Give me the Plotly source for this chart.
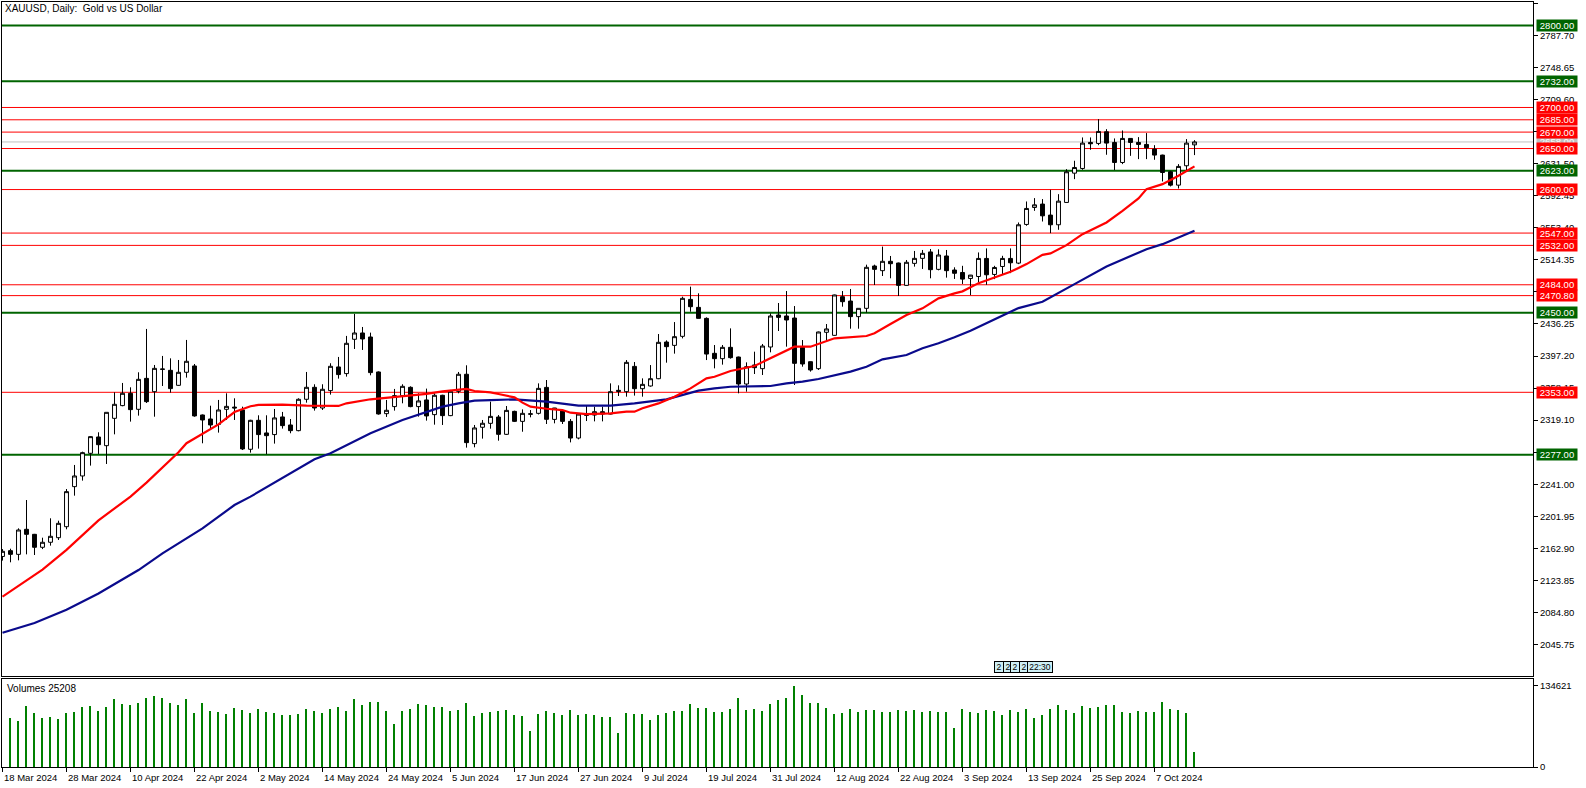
import plotly.graph_objects as go

# ---------------- data ----------------
date_labels = ["18 Mar 2024", "28 Mar 2024", "10 Apr 2024", "22 Apr 2024", "2 May 2024",
               "14 May 2024", "24 May 2024", "5 Jun 2024", "17 Jun 2024", "27 Jun 2024",
               "9 Jul 2024", "19 Jul 2024", "31 Jul 2024", "12 Aug 2024", "22 Aug 2024",
               "3 Sep 2024", "13 Sep 2024", "25 Sep 2024", "7 Oct 2024"]
date_label_bar = [0, 8, 16, 24, 32, 40, 48, 56, 64, 72, 80, 88, 96, 104, 112, 120, 128, 136, 144]

opens = [2153.0, 2160.1, 2155.6, 2186.1, 2180.0, 2164.2, 2170.3, 2175.9, 2189.3, 2238.1,
         2251.1, 2278.7, 2298.6, 2288.0, 2321.3, 2336.8, 2351.8, 2332.3, 2370.0, 2353.8,
         2381.5, 2379.8, 2361.5, 2377.4, 2385.1, 2325.4, 2320.5, 2313.9, 2332.3, 2335.0,
         2331.5, 2283.6, 2318.9, 2303.5, 2301.5, 2323.0, 2313.2, 2306.3, 2344.5, 2359.1,
         2333.9, 2355.1, 2383.9, 2375.8, 2417.6, 2425.3, 2420.4, 2377.8, 2327.0, 2335.6,
         2349.0, 2359.1, 2335.6, 2343.7, 2325.8, 2349.4, 2324.6, 2354.2, 2375.0, 2290.5,
         2310.4, 2315.2, 2322.9, 2301.8, 2329.8, 2317.6, 2326.2, 2327.4, 2359.0, 2320.0,
         2330.2, 2317.6, 2297.3, 2326.5, 2325.3, 2329.4, 2326.5, 2355.4, 2353.8, 2384.6,
         2357.4, 2360.7, 2369.6, 2414.3, 2410.2, 2421.2, 2466.2, 2456.5, 2443.1, 2400.5,
         2394.0, 2407.8, 2396.0, 2363.1, 2386.3, 2381.8, 2408.2, 2447.2, 2446.0, 2443.5,
         2407.8, 2390.3, 2381.8, 2426.1, 2422.4, 2469.5, 2464.2, 2445.2, 2455.3, 2506.9,
         2501.2, 2512.6, 2510.5, 2483.3, 2510.1, 2516.2, 2524.0, 2502.8, 2519.1, 2502.0,
         2499.0, 2491.7, 2494.1, 2516.1, 2496.6, 2506.3, 2516.1, 2510.4, 2557.5, 2578.2,
         2582.3, 2568.9, 2557.1, 2584.3, 2620.0, 2625.7, 2657.4, 2656.2, 2670.4, 2657.4,
         2633.0, 2662.3, 2657.4, 2655.0, 2649.3, 2642.0, 2621.7, 2605.4, 2629.0, 2654.5]
highs = [2162.0, 2162.5, 2187.3, 2221.8, 2180.5, 2175.9, 2199.5, 2196.6, 2235.2, 2264.5,
         2280.7, 2299.5, 2304.3, 2328.6, 2353.0, 2364.4, 2359.1, 2377.4, 2430.2, 2386.3,
         2397.3, 2394.4, 2392.4, 2416.8, 2387.5, 2326.0, 2336.7, 2343.7, 2351.8, 2345.7,
         2335.5, 2319.5, 2325.0, 2325.0, 2332.7, 2329.1, 2320.5, 2345.7, 2377.8, 2362.8,
         2362.8, 2388.4, 2396.1, 2421.7, 2448.5, 2432.6, 2425.7, 2378.5, 2343.7, 2357.1,
         2362.8, 2360.3, 2351.8, 2357.5, 2351.8, 2350.0, 2355.9, 2377.8, 2385.9, 2313.2,
         2319.3, 2341.6, 2325.3, 2336.3, 2330.6, 2332.2, 2331.4, 2363.9, 2368.0, 2334.0,
         2332.2, 2320.5, 2327.0, 2337.5, 2335.5, 2335.5, 2363.9, 2361.5, 2392.3, 2389.9,
         2370.0, 2386.2, 2424.0, 2416.3, 2438.6, 2469.5, 2481.7, 2473.6, 2444.3, 2410.6,
         2410.6, 2430.9, 2396.5, 2389.5, 2402.5, 2411.9, 2449.2, 2461.8, 2476.4, 2458.1,
         2416.7, 2390.5, 2427.0, 2436.2, 2472.0, 2476.4, 2478.9, 2455.5, 2508.5, 2508.5,
         2530.5, 2519.1, 2511.0, 2514.2, 2525.2, 2526.4, 2527.6, 2527.2, 2526.4, 2505.3,
         2507.1, 2496.0, 2523.4, 2528.3, 2507.1, 2519.3, 2528.3, 2559.9, 2585.5, 2589.6,
         2588.4, 2599.7, 2594.4, 2624.9, 2635.1, 2663.5, 2663.5, 2685.8, 2673.6, 2662.3,
         2672.0, 2662.5, 2663.9, 2668.8, 2654.1, 2642.5, 2622.9, 2631.0, 2661.5, 2660.2]
lows = [2148.0, 2145.9, 2148.3, 2155.6, 2154.8, 2162.0, 2166.2, 2173.1, 2186.1, 2227.1,
        2245.4, 2263.7, 2277.9, 2265.7, 2301.8, 2336.0, 2317.3, 2324.6, 2340.0, 2323.3,
        2360.7, 2352.6, 2361.0, 2370.9, 2323.3, 2290.9, 2309.1, 2303.9, 2319.3, 2319.3,
        2282.7, 2279.5, 2284.4, 2277.5, 2290.5, 2308.8, 2303.1, 2305.5, 2340.4, 2330.7,
        2331.5, 2350.2, 2369.7, 2372.1, 2405.8, 2404.6, 2373.7, 2325.8, 2323.0, 2330.7,
        2339.6, 2334.8, 2323.4, 2318.5, 2313.6, 2313.2, 2324.0, 2351.8, 2285.6, 2286.0,
        2296.6, 2308.7, 2294.1, 2301.0, 2316.8, 2305.0, 2322.5, 2326.0, 2314.4, 2315.2,
        2314.4, 2292.0, 2295.7, 2318.0, 2317.6, 2317.6, 2326.0, 2348.5, 2347.7, 2349.0,
        2347.7, 2359.9, 2369.0, 2389.1, 2400.1, 2418.7, 2451.2, 2443.0, 2392.3, 2382.2,
        2386.7, 2394.0, 2351.8, 2353.8, 2375.3, 2374.1, 2401.7, 2427.7, 2408.6, 2361.9,
        2384.2, 2378.2, 2380.2, 2414.7, 2422.0, 2457.3, 2430.5, 2430.5, 2450.0, 2483.7,
        2494.7, 2491.9, 2470.3, 2483.0, 2506.1, 2503.3, 2491.9, 2501.6, 2492.7, 2491.1,
        2485.0, 2471.4, 2486.8, 2484.0, 2490.9, 2497.0, 2498.2, 2509.2, 2555.9, 2574.1,
        2561.1, 2546.9, 2551.0, 2584.0, 2612.7, 2624.1, 2648.5, 2654.1, 2642.4, 2623.7,
        2631.0, 2641.1, 2637.1, 2637.1, 2636.3, 2609.9, 2603.8, 2601.3, 2623.7, 2642.0]
closes = [2159.3, 2155.6, 2185.3, 2180.0, 2164.2, 2170.3, 2177.6, 2193.4, 2232.0, 2251.1,
          2279.5, 2299.0, 2289.2, 2328.6, 2338.4, 2351.8, 2331.9, 2368.8, 2341.6, 2382.2,
          2381.0, 2357.5, 2377.4, 2390.8, 2324.2, 2319.3, 2313.2, 2331.5, 2335.9, 2334.0,
          2284.0, 2318.9, 2301.5, 2300.2, 2321.8, 2312.4, 2306.3, 2344.5, 2359.1, 2333.9,
          2356.7, 2384.7, 2374.6, 2412.7, 2425.3, 2418.0, 2377.0, 2326.6, 2331.1, 2349.0,
          2360.3, 2335.6, 2342.5, 2324.2, 2349.4, 2324.6, 2354.2, 2375.0, 2291.7, 2309.6,
          2315.3, 2323.7, 2301.8, 2331.0, 2317.6, 2327.4, 2326.8, 2357.8, 2320.1, 2333.9,
          2317.6, 2297.3, 2326.5, 2325.0, 2329.4, 2326.5, 2353.8, 2354.2, 2389.5, 2357.4,
          2362.7, 2369.6, 2413.9, 2408.6, 2420.8, 2467.5, 2457.3, 2443.1, 2399.6, 2394.0,
          2407.8, 2395.2, 2363.1, 2384.2, 2383.0, 2409.4, 2446.0, 2444.3, 2441.1, 2388.3,
          2387.5, 2380.2, 2426.5, 2430.2, 2471.6, 2463.4, 2445.2, 2455.3, 2505.3, 2502.8,
          2512.6, 2509.7, 2483.3, 2511.4, 2516.2, 2522.3, 2502.4, 2520.3, 2501.2, 2498.0,
          2490.9, 2495.8, 2516.1, 2496.2, 2505.1, 2516.1, 2510.8, 2557.1, 2577.0, 2581.4,
          2568.0, 2557.1, 2585.9, 2621.7, 2626.9, 2656.6, 2655.8, 2670.8, 2656.6, 2633.0,
          2662.3, 2657.4, 2655.0, 2650.9, 2642.0, 2620.8, 2605.4, 2628.2, 2656.6, 2658.0]
# first bar's volume is hidden behind the panel edge in the picture
volumes = [None, 81600, 76700, 101500, 89900, 81600, 83300, 80000, 89900, 91600,
           99800, 101500, 93200, 99800, 113100, 104800, 103200, 106500, 114700, 118100,
           114700, 106500, 103200, 113100, 89900, 106500, 93200, 91600, 88300, 98200,
           94900, 89900, 96500, 91600, 89900, 86600, 86600, 88300, 96500, 93200,
           89900, 96500, 99800, 93200, 113100, 103200, 108100, 108100, 93200, 71700,
           93200, 96500, 104800, 103200, 99800, 99800, 93200, 94900, 106500, 84900,
           89900, 91600, 93200, 94900, 86600, 84900, 60100, 88300, 93200, 89900,
           86600, 94900, 86600, 88300, 86600, 83300, 83300, 56800, 89900, 88300,
           88300, 78300, 86600, 89900, 93200, 93200, 104800, 98200, 98200, 91600,
           91600, 96500, 114700, 94900, 96500, 93200, 104800, 111400, 114700, 134621,
           119700, 106500, 106500, 98200, 88300, 89900, 96500, 91600, 94900, 94900,
           91600, 91600, 94900, 93200, 94900, 91600, 93200, 91600, 91600, 65100,
           96500, 91600, 89900, 94900, 93200, 86600, 94900, 91600, 96500, 81600,
           86600, 96500, 103200, 94900, 89900, 101500, 98200, 99800, 103200, 103200,
           91600, 89900, 93200, 91600, 91600, 108100, 96500, 94900, 89900, 25208]

# moving averages (bar index, value)
ma_fast_bar = [0, 3, 5, 8, 12, 16, 18, 22, 23, 27, 29, 31, 32, 35, 38, 42, 43, 46, 49, 53,
               55, 57, 58, 59, 61, 62, 64, 65, 66, 68, 70, 71, 73, 76, 78, 79, 80, 82, 84, 86,
               88, 89, 91, 94, 96, 98, 99, 101, 102, 104, 108, 109, 111, 113, 115, 117, 119, 120,
               122, 124, 126, 128, 130, 131, 133, 135, 138, 140, 142, 143, 145, 147, 149]
ma_fast_val = [2104, 2124, 2137, 2161, 2197, 2226, 2243, 2280, 2291, 2314, 2329, 2336, 2337.6,
               2338, 2336.8, 2336.4, 2339.6, 2344.5, 2346.9, 2351, 2354.2, 2356.7, 2357.1,
               2354.6, 2353, 2350.9, 2346.8, 2340.4, 2335.5, 2333, 2331.4, 2328.2, 2326.5,
               2327.4, 2329.4, 2329.4, 2333.5, 2339.5, 2347.7, 2357.8, 2370, 2372, 2379,
               2385.1, 2394.4, 2403.7, 2408.6, 2408.6, 2411.9, 2418.8, 2421.6, 2424.9, 2436.2,
               2447.2, 2455.3, 2467.5, 2473.5, 2476, 2486, 2492.9, 2499.8, 2509.2, 2520.5,
               2522.2, 2532.3, 2545.7, 2559.9, 2574.1, 2589.2, 2600.5, 2606.6, 2616.8, 2628.2]
ma_slow_bar = [0, 4, 8, 12, 17, 20, 25, 29, 31, 39, 41, 46, 50, 53, 55, 57, 59, 61, 64, 68,
               72, 76, 79, 83, 85, 87, 89, 91, 96, 98, 100, 102, 106, 108, 110, 113, 115, 117,
               119, 121, 127, 130, 134, 138, 143, 145, 147, 149]
ma_slow_val = [2060, 2072, 2088, 2108, 2136.5, 2156.8, 2187.3, 2215.7, 2225.9, 2271.4, 2278.7,
               2303.1, 2319.3, 2329.5, 2335.6, 2339.6, 2342.8, 2343.6, 2344.4, 2341.6, 2336.7,
               2336.7, 2339.5, 2344.4, 2349.7, 2355.0, 2357.8, 2359.8, 2360.7, 2363.9, 2366.0,
               2369.2, 2378.2, 2384.2, 2393.2, 2398.5, 2406.6, 2412.7, 2420.0, 2428.0, 2455.6,
               2463.3, 2484.8, 2506.3, 2527.4, 2533.5, 2541.6, 2549.8]

green_levels = [2800.0, 2732.0, 2623.0, 2450.0, 2277.0]
red_levels = [2700.0, 2685.0, 2670.0, 2650.0, 2600.0, 2547.0, 2532.0, 2484.0, 2470.8, 2353.0]

price_ticks = ["2826.75", "2787.70", "2748.65", "2709.60", "2670.55", "2631.50", "2592.45",
               "2553.40", "2514.35", "2475.30", "2436.25", "2397.20", "2358.15", "2319.10",
               "2280.05", "2241.00", "2201.95", "2162.90", "2123.85", "2084.80", "2045.75"]
volume_max_label = 134621

# ---------------- styling ----------------
FONT = "Liberation Sans, Arial, sans-serif"
DARK_GREEN = "#006400"
RED = "#ff0000"

bars = list(range(len(opens)))
W, H = 1586, 788
ML, MR, MT, MB = 2, 53, 2, 21
plot_w = W - ML - MR
plot_h = H - MT - MB
px_per_bar = 8.0
x_left = -0.5 / px_per_bar
x_right = x_left + plot_w / px_per_bar

main_bottom_px = 676
vol_top_px = 679
bottom_px = H - MB


def ypaper(py):
    return (bottom_px - py) / plot_h


def xpaper(px):
    return (px - ML) / plot_w


fig = go.Figure()

fig.add_trace(go.Bar(
    x=bars, y=volumes, width=0.14, marker=dict(color="#008000", line=dict(width=0)),
    xaxis="x2", yaxis="y2", showlegend=False, hoverinfo="skip"))

fig.add_trace(go.Scatter(
    x=ma_slow_bar, y=ma_slow_val, mode="lines", line=dict(color="#0a0a8c", width=2.2),
    xaxis="x", yaxis="y", showlegend=False, hoverinfo="skip"))
fig.add_trace(go.Scatter(
    x=ma_fast_bar, y=ma_fast_val, mode="lines", line=dict(color=RED, width=2.2),
    xaxis="x", yaxis="y", showlegend=False, hoverinfo="skip"))

fig.add_trace(go.Candlestick(
    x=bars, open=opens, high=highs, low=lows, close=closes,
    increasing=dict(line=dict(color="black", width=1), fillcolor="white"),
    decreasing=dict(line=dict(color="black", width=1), fillcolor="black"),
    whiskerwidth=0, xaxis="x", yaxis="y", showlegend=False))

shapes = []
last_close = closes[-1]
shapes.append(dict(type="line", xref="paper", yref="y", x0=0, x1=1, y0=last_close, y1=last_close,
                   line=dict(color="#c0c0c0", width=1), layer="below"))
for lv in red_levels:
    shapes.append(dict(type="line", xref="paper", yref="y", x0=0, x1=1, y0=lv, y1=lv,
                       line=dict(color=RED, width=1), layer="below"))
for lv in green_levels:
    shapes.append(dict(type="line", xref="paper", yref="y", x0=0, x1=1, y0=lv, y1=lv,
                       line=dict(color=DARK_GREEN, width=2), layer="below"))

annotations = []
annotations.append(dict(text="XAUUSD, Daily:\u00a0\u00a0Gold vs US Dollar", xref="paper", yref="paper",
                        x=xpaper(3), y=ypaper(9), xanchor="left", yanchor="middle", showarrow=False,
                        font=dict(family=FONT, size=10, color="black")))
annotations.append(dict(text="Volumes " + str(volumes[-1]), xref="paper", yref="paper",
                        x=xpaper(5), y=ypaper(688), xanchor="left", yanchor="middle", showarrow=False,
                        font=dict(family=FONT, size=10, color="black")))


def level_box(val, bg, txt_color="white"):
    return dict(text=f"{val:.2f}", xref="paper", yref="y", x=1, y=val, xanchor="left",
                yanchor="middle", xshift=3, showarrow=False, bgcolor=bg, width=40, height=11,
                borderpad=0, font=dict(family=FONT, size=9.5, color=txt_color))


annotations.append(level_box(last_close, "#c0c0c0"))
for lv in red_levels:
    annotations.append(level_box(lv, RED))
for lv in green_levels:
    annotations.append(level_box(lv, DARK_GREEN))

# date labels (left-aligned at the tick, MT5 style)
for b, lab in zip(date_label_bar, date_labels):
    annotations.append(dict(text=lab, xref="x2", yref="paper", x=b, y=ypaper(777),
                            xanchor="left", yanchor="middle", xshift=-1, showarrow=False,
                            font=dict(family=FONT, size=9.5, color="black")))

# small event tags near the bottom of the price panel
tag_texts = ["2", "2", "2", "2", "22:30"]
tag_left = [994, 1002.7, 1010.3, 1018.5, 1026.7]
tag_width = [8, 8, 8, 8, 24]
for t, lx, tw in zip(tag_texts, tag_left, tag_width):
    annotations.append(dict(text=t, xref="paper", yref="paper", x=xpaper(lx), y=ypaper(667),
                            xanchor="left", yanchor="middle", showarrow=False, bgcolor="#cdeef4",
                            bordercolor="black", borderwidth=1, borderpad=0, width=tw, height=10,
                            font=dict(family=FONT, size=8.5, color="black")))

fig.update_layout(
    width=W, height=H,
    margin=dict(l=ML, r=MR, t=MT, b=MB, pad=0, autoexpand=False),
    paper_bgcolor="white", plot_bgcolor="white",
    showlegend=False, bargap=0,
    font=dict(family=FONT, size=9.5, color="black"),
    xaxis=dict(domain=[0, 1], range=[x_left, x_right], anchor="y", showgrid=False,
               zeroline=False, showticklabels=False, ticks="", showline=True, linecolor="black",
               linewidth=1, mirror=True, rangeslider=dict(visible=False), fixedrange=True,
               automargin=False),
    yaxis=dict(domain=[ypaper(main_bottom_px), 1], range=[2007.4, 2828.5], side="right",
               anchor="x", showgrid=False, zeroline=False, tickmode="array",
               tickvals=[float(t) for t in price_ticks], ticktext=price_ticks, automargin=False,
               ticks="outside", ticklen=4, tickcolor="black", showline=True, linecolor="black",
               linewidth=1, mirror=True, tickfont=dict(family=FONT, size=9.5, color="black")),
    xaxis2=dict(domain=[0, 1], range=[x_left, x_right], anchor="y2", showgrid=False,
                zeroline=False, showticklabels=False, tickmode="array", automargin=False,
                tickvals=date_label_bar, ticks="outside", ticklen=4, tickcolor="black",
                showline=True, linecolor="black", linewidth=1, mirror=True),
    yaxis2=dict(domain=[0, ypaper(vol_top_px)], range=[0, volume_max_label * 88.3 / 81.3],
                side="right", anchor="x2", showgrid=False, zeroline=False, tickmode="array",
                tickvals=[0, volume_max_label], ticktext=["0", str(volume_max_label)],
                automargin=False,
                ticks="outside", ticklen=4, tickcolor="black", showline=True, linecolor="black",
                linewidth=1, mirror=True, tickfont=dict(family=FONT, size=9.5, color="black")),
    shapes=shapes,
    annotations=annotations,
)

fig.write_html("out.html", config={"displayModeBar": False},
               post_script="document.body.style.margin='0px';")
